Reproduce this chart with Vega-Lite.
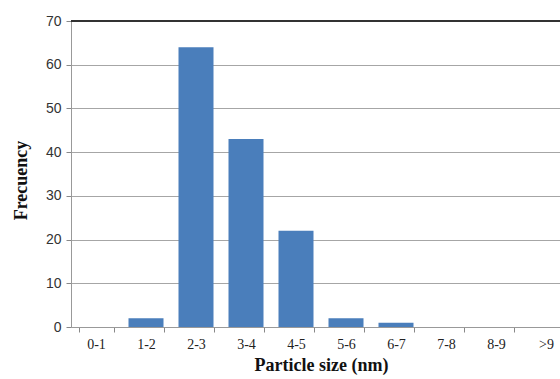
{
  "$schema": "https://vega.github.io/schema/vega-lite/v6.json",
  "autosize": "none",
  "padding": {"left": 71, "top": 21, "right": 0, "bottom": 52},
  "width": 489,
  "height": 306,
  "background": "white",
  "config": {"view": {"stroke": null}, "font": "Liberation Serif"},
  "data": {"values": [
    {"size": "0-1", "freq": 0},
    {"size": "1-2", "freq": 2},
    {"size": "2-3", "freq": 64},
    {"size": "3-4", "freq": 43},
    {"size": "4-5", "freq": 22},
    {"size": "5-6", "freq": 2},
    {"size": "6-7", "freq": 1},
    {"size": "7-8", "freq": 0},
    {"size": "8-9", "freq": 0},
    {"size": ">9", "freq": 0}
  ]},
  "layer": [
    {
      "mark": {"type": "bar", "color": "#4a7ebb"},
      "encoding": {
        "x": {
          "field": "size", "type": "nominal", "sort": null,
          "scale": {"range": [0, 500], "paddingInner": 0.3, "paddingOuter": 0.15},
          "axis": {
            "title": "Particle size (nm)", "titleFont": "Liberation Serif", "titleFontSize": 18, "titleFontWeight": "bold", "titleColor": "#111",
            "titleX": 250, "titlePadding": 5,
            "labelAngle": 0, "labelFont": "Liberation Serif", "labelFontSize": 14, "labelColor": "#222", "labelPadding": 5,
            "tickBand": "extent", "tickSize": 5, "tickColor": "#888", "domainColor": "#999", "grid": false
          }
        },
        "y": {
          "field": "freq", "type": "quantitative",
          "scale": {"domain": [0, 70], "nice": false},
          "axis": {
            "title": "Frecuency", "titleFont": "Liberation Serif", "titleFontSize": 18, "titleFontWeight": "bold", "titleColor": "#111",
            "titlePadding": 15, "titleY": 159,
            "values": [0, 10, 20, 30, 40, 50, 60, 70],
            "labelFont": "Liberation Sans", "labelFontSize": 14, "labelColor": "#333", "labelPadding": 5,
            "tickSize": 5, "tickColor": "#888", "domainColor": "#999",
            "grid": true, "gridColor": "#a6a6a6", "gridWidth": 1.2
          }
        }
      }
    },
    {
      "mark": {"type": "rule", "color": "#333", "strokeWidth": 1.5},
      "encoding": {"y": {"datum": 70}}
    }
  ]
}
